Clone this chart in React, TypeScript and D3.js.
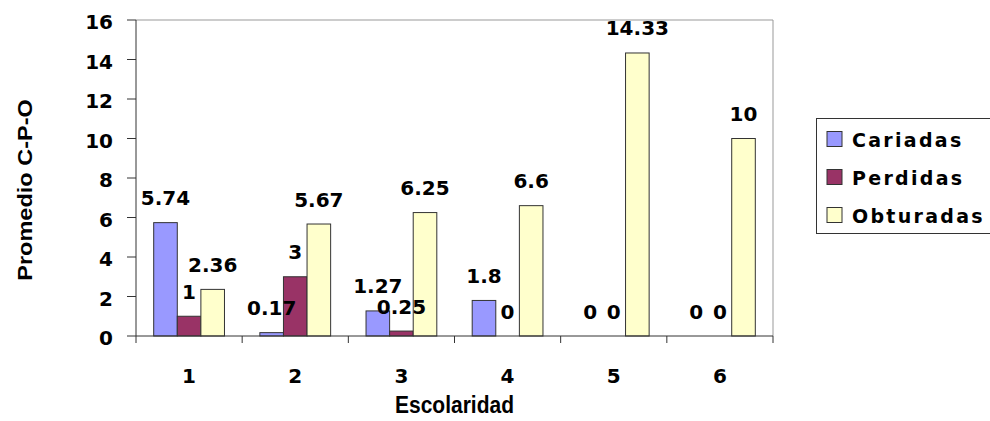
import React from 'react';
import { scaleBand, scaleLinear } from 'd3';

const categories = ['1', '2', '3', '4', '5', '6'];
const seriesNames = ['Cariadas', 'Perdidas', 'Obturadas'];
const cariadas = [5.74, 0.17, 1.27, 1.8, 0, 0];
const perdidas = [1, 3, 0.25, 0, 0, 0];
const obturadas = [2.36, 5.67, 6.25, 6.6, 14.33, 10];
const yTicks = [0, 2, 4, 6, 8, 10, 12, 14, 16];

const colors = ['#9999FF', '#993366', '#FFFFCC'];
const seriesValues = [cariadas, perdidas, obturadas];

const plot = { left: 136, right: 773, top: 20, bottom: 336 };
const numFont = '"DejaVu Sans", Verdana, sans-serif';
const titleFont = '"Liberation Sans", Arial, sans-serif';

const App: React.FC = () => {
    const x = scaleBand<string>()
        .domain(categories)
        .range([plot.left, plot.right])
        .padding(0);
    const xs = scaleBand<string>()
        .domain(seriesNames)
        .range([0, x.bandwidth()])
        .paddingInner(0)
        .paddingOuter(0.75);
    const y = scaleLinear().domain([0, 16]).range([plot.bottom, plot.top]);

    const bars = seriesNames.flatMap((s, si) =>
        categories.map((c, ci) => ({
            key: `${s}-${c}`,
            x: x(c)! + xs(s)!,
            v: seriesValues[si][ci],
            fill: colors[si],
        }))
    );

    return (
        <div style={{ position: 'absolute', left: 0, top: 0 }}>
            <svg width={990} height={421} style={{ display: 'block', background: '#fff' }}>
                {/* plot border (top and right) */}
                <line x1={plot.left} x2={plot.right} y1={plot.top} y2={plot.top} stroke="#999" />
                <line x1={plot.right} x2={plot.right} y1={plot.top} y2={plot.bottom} stroke="#999" />

                {/* bars */}
                {bars.map(b => (
                    <rect key={b.key}
                        x={b.x}
                        y={y(b.v)}
                        width={xs.bandwidth()}
                        height={y(0) - y(b.v)}
                        fill={b.fill}
                        stroke="#333"
                        strokeWidth={1} />
                ))}

                {/* axes */}
                <line x1={plot.left} x2={plot.left} y1={plot.top} y2={plot.bottom + 7} stroke="#333" />
                <line x1={plot.left} x2={plot.right} y1={plot.bottom} y2={plot.bottom} stroke="#333" />
                {yTicks.map(t => (
                    <g key={t}>
                        <line x1={plot.left - 9} x2={plot.left} y1={y(t)} y2={y(t)} stroke="#333" />
                        <text x={113} y={y(t) + 9} textAnchor="end"
                            fontFamily={numFont} fontWeight="bold" fontSize={20}>{t}</text>
                    </g>
                ))}
                {categories.map(c => (
                    <g key={c}>
                        <line x1={x(c)! + x.bandwidth()} x2={x(c)! + x.bandwidth()}
                            y1={plot.bottom} y2={plot.bottom + 7} stroke="#333" />
                        <text x={x(c)! + x.bandwidth() / 2} y={383} textAnchor="middle"
                            fontFamily={numFont} fontWeight="bold" fontSize={20}>{c}</text>
                    </g>
                ))}

                {/* data labels */}
                {bars.map(b => (
                    <text key={'l' + b.key}
                        x={b.x + xs.bandwidth() / 2}
                        y={y(b.v) - 17.5}
                        textAnchor="middle"
                        fontFamily={numFont} fontWeight="bold" fontSize={20}>{b.v}</text>
                ))}

                {/* axis titles */}
                <g transform={`translate(${(plot.left + plot.right) / 2}, 413) scale(1, 1.12)`}>
                    <text textAnchor="middle" fontFamily={titleFont} fontWeight="bold" fontSize={21}>Escolaridad</text>
                </g>
                <g transform={`translate(32, 190) rotate(-90) scale(1.12, 1)`}>
                    <text textAnchor="middle" fontFamily={titleFont} fontWeight="bold" fontSize={21}>Promedio C-P-O</text>
                </g>

                {/* legend */}
                <rect x={816.5} y={118.5} width={190} height={115} fill="#fff" stroke="#333" />
                {seriesNames.map((s, i) => (
                    <g key={s} transform={`translate(827, ${139 + i * 38})`}>
                        <rect x={0} y={-7.5} width={15} height={15} fill={colors[i]} stroke="#333" />
                        <text x={25} y={8} fontFamily={numFont} fontWeight="bold" fontSize={19}
                            letterSpacing={2.3}>{s}</text>
                    </g>
                ))}
            </svg>
        </div>
    );
};

export default App;
